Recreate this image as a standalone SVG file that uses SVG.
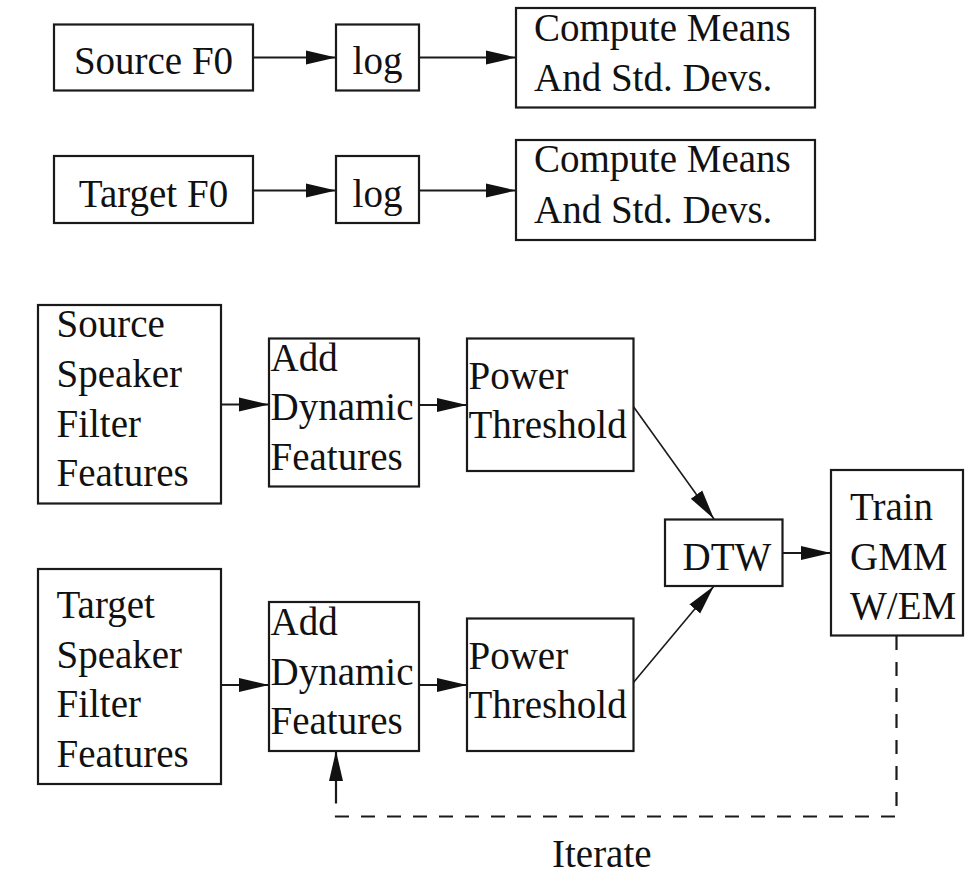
<svg xmlns="http://www.w3.org/2000/svg" width="969" height="883" viewBox="0 0 969 883">
  <style>
    .box { fill: #ffffff; stroke: #1a1a1a; stroke-width: 2.2; }
    .lbl { font-size: 39px; fill: #111111; }
    .mid { text-anchor: middle; }
    .edge { fill: none; stroke: #1a1a1a; stroke-width: 2.2; }
    .thin { stroke-width: 1.6; }
    .dash { stroke-dasharray: 14 12; }
  </style>
  <defs>
    <marker id="arrow" markerUnits="userSpaceOnUse" markerWidth="30" markerHeight="16" viewBox="0 0 30 16" refX="30" refY="8" orient="auto">
      <path d="M0,1 L30,8 L0,15 Z" fill="#111111"/>
    </marker>
  </defs>
  <rect width="969" height="883" fill="#ffffff"/>

  <g font-family="Liberation Serif, DejaVu Serif, Times New Roman, serif">
  <!-- connectors -->
  <g id="connectors">
    <line class="edge" x1="253" y1="57.5" x2="336" y2="57.5" marker-end="url(#arrow)"/>
    <line class="edge" x1="419" y1="57.5" x2="516" y2="57.5" marker-end="url(#arrow)"/>
    <line class="edge" x1="253" y1="190.5" x2="336" y2="190.5" marker-end="url(#arrow)"/>
    <line class="edge" x1="419" y1="190.5" x2="516" y2="190.5" marker-end="url(#arrow)"/>
    <line class="edge" x1="221" y1="404.5" x2="269" y2="404.5" marker-end="url(#arrow)"/>
    <line class="edge" x1="419" y1="405" x2="467" y2="405" marker-end="url(#arrow)"/>
    <line class="edge thin" x1="633" y1="406" x2="714" y2="519" marker-end="url(#arrow)"/>
    <line class="edge" x1="221" y1="685" x2="269" y2="685" marker-end="url(#arrow)"/>
    <line class="edge" x1="419" y1="685" x2="467" y2="685" marker-end="url(#arrow)"/>
    <line class="edge thin" x1="633" y1="683" x2="714" y2="586" marker-end="url(#arrow)"/>
    <line class="edge" x1="782" y1="553" x2="831" y2="553" marker-end="url(#arrow)"/>
    <!-- iteration feedback loop -->
    <path class="edge dash" d="M896.5,636 L896.5,816.5 L336,816.5 L336,795"/>
    <line class="edge" x1="336" y1="795" x2="336" y2="751" marker-end="url(#arrow)"/>
    <text class="lbl" x="552" y="866.5">Iterate</text>
  </g>

  <g id="source-f0">
    <rect class="box" x="54" y="24.5" width="199" height="66"/>
    <text class="lbl mid" x="153.5" y="74">Source F0</text>
  </g>
  <g id="log-source">
    <rect class="box" x="336" y="24.5" width="83" height="66"/>
    <text class="lbl mid" x="377.5" y="74">log</text>
  </g>
  <g id="stats-source">
    <rect class="box" x="516" y="8" width="299" height="99.5"/>
    <text class="lbl" x="534" y="40.5">Compute Means</text>
    <text class="lbl" x="534" y="90.5">And Std. Devs.</text>
  </g>

  <g id="target-f0">
    <rect class="box" x="54" y="156" width="199" height="67"/>
    <text class="lbl mid" x="153.5" y="206.5">Target F0</text>
  </g>
  <g id="log-target">
    <rect class="box" x="336" y="156" width="83" height="67"/>
    <text class="lbl mid" x="377.5" y="206.5">log</text>
  </g>
  <g id="stats-target">
    <rect class="box" x="516" y="140" width="299" height="100"/>
    <text class="lbl" x="534" y="172">Compute Means</text>
    <text class="lbl" x="534" y="222.5">And Std. Devs.</text>
  </g>

  <g id="source-speaker">
    <rect class="box" x="38" y="305" width="183" height="198.5"/>
    <text class="lbl" x="56.5" y="337">Source</text>
    <text class="lbl" x="56.5" y="386.5">Speaker</text>
    <text class="lbl" x="56.5" y="436.5">Filter</text>
    <text class="lbl" x="56.5" y="485.5">Features</text>
  </g>
  <g id="dynamic-source">
    <rect class="box" x="269" y="338.5" width="150" height="148"/>
    <text class="lbl" x="270.5" y="371">Add</text>
    <text class="lbl" x="270.5" y="420">Dynamic</text>
    <text class="lbl" x="270.5" y="470">Features</text>
  </g>
  <g id="power-source">
    <rect class="box" x="467" y="338.5" width="166.5" height="132.5"/>
    <text class="lbl" x="468.5" y="388.5">Power</text>
    <text class="lbl" x="468.5" y="437.5">Threshold</text>
  </g>

  <g id="target-speaker">
    <rect class="box" x="38" y="569" width="183" height="215"/>
    <text class="lbl" x="56.5" y="617.5">Target</text>
    <text class="lbl" x="56.5" y="667.5">Speaker</text>
    <text class="lbl" x="56.5" y="717">Filter</text>
    <text class="lbl" x="56.5" y="766.5">Features</text>
  </g>
  <g id="dynamic-target">
    <rect class="box" x="269" y="602" width="150" height="149"/>
    <text class="lbl" x="270.5" y="635">Add</text>
    <text class="lbl" x="270.5" y="685">Dynamic</text>
    <text class="lbl" x="270.5" y="734">Features</text>
  </g>
  <g id="power-target">
    <rect class="box" x="467" y="618.5" width="166.5" height="132.5"/>
    <text class="lbl" x="468.5" y="668.5">Power</text>
    <text class="lbl" x="468.5" y="718">Threshold</text>
  </g>

  <g id="dtw">
    <rect class="box" x="665" y="519.5" width="117.5" height="66.5"/>
    <text class="lbl" x="682.5" y="569.5">DTW</text>
  </g>
  <g id="train-gmm">
    <rect class="box" x="831" y="470" width="132" height="165.5"/>
    <text class="lbl" x="850" y="520">Train</text>
    <text class="lbl" x="850" y="569.5">GMM</text>
    <text class="lbl" x="850" y="618.5">W/EM</text>
  </g>
  </g>
</svg>
